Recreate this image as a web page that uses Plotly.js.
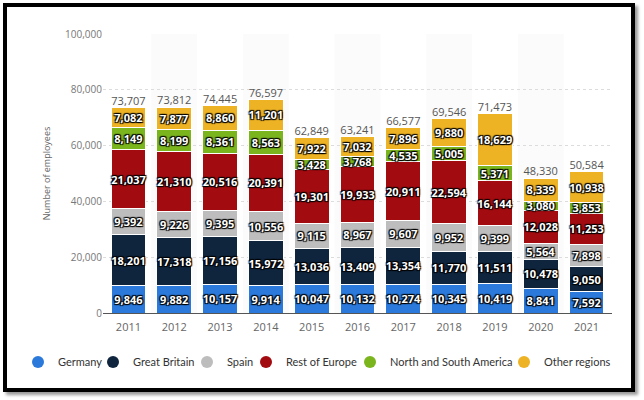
<!DOCTYPE html>
<html>
<head>
<meta charset="utf-8">
<script src="https://cdn.plot.ly/plotly-3.0.1.min.js"></script>
<style>
html,body{margin:0;padding:0;background:#fff;}
#wrap{position:relative;width:644px;height:400px;overflow:hidden;}
#chart{position:absolute;left:0;top:0;width:644px;height:400px;}
#frame{position:absolute;left:3px;top:3px;width:624px;height:381px;border:4px solid #000;box-shadow:3px 3px 3px #9a9a9a;pointer-events:none;}
</style>
</head>
<body>
<div id="wrap"><div id="chart"></div><div id="frame"></div></div>
<script>
var years = ["2011","2012","2013","2014","2015","2016","2017","2018","2019","2020","2021"];
var germany = [9846,9882,10157,9914,10047,10132,10274,10345,10419,8841,7592];
var greatBritain = [18201,17318,17156,15972,13036,13409,13354,11770,11511,10478,9050];
var spain = [9392,9226,9395,10556,9115,8967,9607,9952,9399,5564,7898];
var restOfEurope = [21037,21310,20516,20391,19301,19933,20911,22594,16144,12028,11253];
var americas = [8149,8199,8361,8563,3428,3768,4535,5005,5371,3080,3853];
var otherRegions = [7082,7877,8860,11201,7922,7032,7896,9880,18629,8339,10938];

var seriesNames = ["Germany","Great Britain","Spain","Rest of Europe","North and South America","Other regions"];
var seriesData = [germany,greatBritain,spain,restOfEurope,americas,otherRegions];
var seriesColors = ["#2a79db","#0f253d","#bdbdbd","#a20b10","#7bb51e","#eeb324"];

function fmt(v){return v.toLocaleString("en-US");}

var traces = seriesData.map(function(d,i){
  return {
    type:"bar", name:seriesNames[i], x:years, y:d, showlegend:false,
    marker:{color:seriesColors[i], line:{color:"#ffffff", width:1}},
    text:d.map(fmt), textposition:"inside", insidetextanchor:"middle",
    textangle:0, constraintext:"none",
    textfont:{family:"Open Sans, sans-serif", size:11, color:"#ffffff", weight:700,
      shadow:"1px 1px 1px #000, -1px -1px 1px #000, 1px -1px 1px #000, -1px 1px 1px #000"},
    hoverinfo:"skip"
  };
});

// legend entries (circle markers), one legend box per entry
var legendLeftPx = [18,93,187,246,350,504];
seriesNames.forEach(function(n,i){
  traces.push({type:"scatter", mode:"markers", name:n, x:[null], y:[null],
    legend: i===0 ? "legend" : "legend"+(i+1),
    marker:{symbol:"circle", size:12, color:seriesColors[i]}, hoverinfo:"skip"});
});

var totals = years.map(function(_,j){
  return seriesData.reduce(function(s,d){return s+d[j];},0);
});
traces.push({
  type:"scatter", mode:"text", x:years, y:totals, text:totals.map(fmt),
  textposition:"top center", showlegend:false, hoverinfo:"skip",
  textfont:{family:"Open Sans, sans-serif", size:11, color:"#555555"}
});

var shapes = [];
years.forEach(function(y,i){
  if(i%2===1){
    shapes.push({type:"rect", xref:"x", yref:"paper", x0:i-0.5, x1:i+0.5, y0:0, y1:1,
      fillcolor:"#fbfbfb", line:{width:0}, layer:"below"});
  }
});

var layout = {
  width:644, height:400,
  margin:{l:103, r:32, t:34, b:87},
  paper_bgcolor:"#ffffff", plot_bgcolor:"#ffffff",
  barmode:"stack", bargap:0.24,
  showlegend:true,
  font:{family:"Open Sans, sans-serif", color:"#666"},
  xaxis:{type:"category", showgrid:false, showline:true, linecolor:"#555", linewidth:1,
    ticks:"", tickfont:{size:11, color:"#666"}, ticklabelstandoff:4, fixedrange:true},
  yaxis:{range:[0,100000], tickvals:[0,20000,40000,60000,80000,100000],
    ticktext:["0","20,000","40,000","60,000","80,000","100,000"],
    showgrid:true, gridcolor:"#dcdcdc", griddash:"dot", zeroline:false,
    tickfont:{size:10, color:"#777"}, ticks:"", ticklen:0,
    title:{text:"Number of employees", font:{size:9, color:"#666"}, standoff:12}},
  shapes:shapes
};
legendLeftPx.forEach(function(px,i){
  layout[i===0 ? "legend" : "legend"+(i+1)] = {
    orientation:"h", xref:"container", yref:"container", x:px/644, xanchor:"left",
    y:1-362/400, yanchor:"middle", font:{family:"Lato, sans-serif", size:11, color:"#333"},
    bgcolor:"rgba(0,0,0,0)"
  };
});

Plotly.newPlot("chart", traces, layout, {displayModeBar:false, staticPlot:true});
</script>
</body>
</html>
